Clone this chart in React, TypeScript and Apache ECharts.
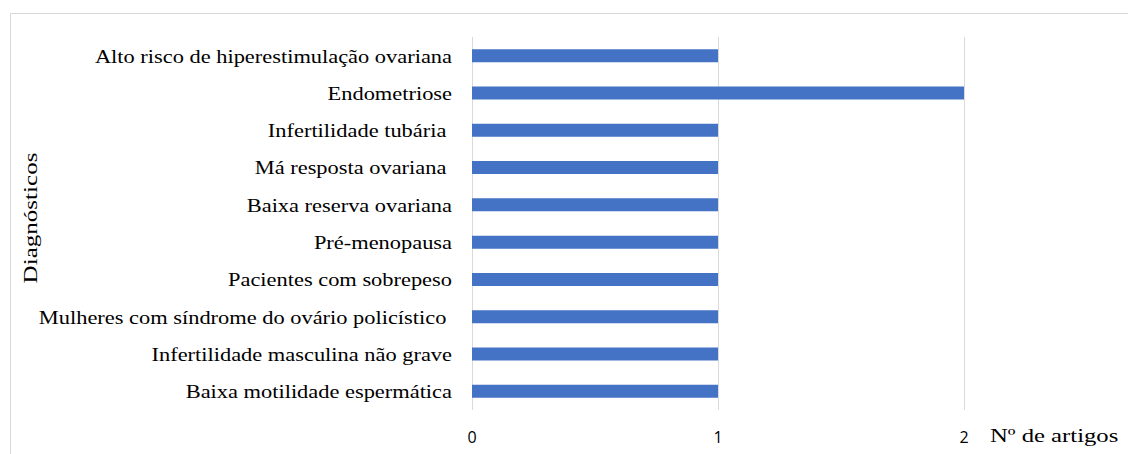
import React, { useEffect, useRef } from "react";
import * as echarts from "echarts";

const categories = [
  "Baixa motilidade espermática",
  "Infertilidade masculina não grave",
  "Mulheres com síndrome do ovário policístico ",
  "Pacientes com sobrepeso",
  "Pré-menopausa",
  "Baixa reserva ovariana",
  "Má resposta ovariana ",
  "Infertilidade tubária ",
  "Endometriose",
  "Alto risco de hiperestimulação ovariana",
];
const values = [1, 1, 1, 1, 1, 1, 1, 1, 2, 1];
const xTicks = [0, 1, 2];
const xTitle = "Nº de artigos";
const yTitle = "Diagnósticos";

const SERIF = "Liberation Serif, Times New Roman, serif";

export default function App() {
  const ref = useRef<HTMLDivElement>(null);
  useEffect(() => {
    if (!ref.current) return;
    const chart = echarts.init(ref.current, undefined, { renderer: "svg" });
    chart.setOption({
      animation: false,
      backgroundColor: "#ffffff",
      grid: { left: 472, right: 164, top: 37, bottom: 44, containLabel: false },
      xAxis: {
        type: "value",
        min: xTicks[0],
        max: xTicks[xTicks.length - 1],
        interval: 1,
        axisLine: { show: false },
        axisTick: { show: false },
        axisLabel: {
          margin: 19,
          color: "#000000",
          fontSize: 16,
          fontFamily: "Open Sans, Noto Sans, sans-serif",
        },
        splitLine: { show: true, lineStyle: { color: "#d9d9d9", width: 1 } },
      },
      yAxis: {
        type: "category",
        data: categories,
        axisLine: { show: false },
        axisTick: { show: false },
        axisLabel: { show: false },
      },
      series: [
        {
          type: "bar",
          data: values,
          barWidth: 13,
          itemStyle: { color: "#4472c4" },
        },
      ],
    });

    const x0 = chart.convertToPixel({ xAxisIndex: 0 }, xTicks[0]) as number;
    const x2 = chart.convertToPixel(
      { xAxisIndex: 0 },
      xTicks[xTicks.length - 1]
    ) as number;
    const labelGraphics = categories.map((c) => ({
      type: "text",
      x: x0 - 20,
      y: chart.convertToPixel({ yAxisIndex: 0 }, c) as number,
      scaleX: 1.18,
      silent: true,
      style: {
        text: c,
        fontFamily: SERIF,
        fontSize: 19,
        fill: "#000000",
        align: "right",
        verticalAlign: "middle",
      },
    }));

    chart.setOption({
      graphic: [
        {
          type: "rect",
          shape: { x: 10.5, y: 13.5, width: 1300, height: 1000 },
          style: { fill: "none", stroke: "#d9d9d9", lineWidth: 1 },
          silent: true,
        },
        ...labelGraphics,
        {
          type: "text",
          x: x2 + 26,
          y: 436,
          scaleX: 1.3,
          silent: true,
          style: {
            text: xTitle,
            fontFamily: SERIF,
            fontSize: 19,
            fill: "#000000",
            verticalAlign: "middle",
          },
        },
        {
          type: "text",
          x: 31,
          y: 218,
          rotation: Math.PI / 2,
          scaleX: 1.32,
          silent: true,
          style: {
            text: yTitle,
            fontFamily: SERIF,
            fontSize: 19,
            fill: "#000000",
            align: "center",
            verticalAlign: "middle",
          },
        },
      ],
    });
    return () => chart.dispose();
  }, []);
  return (
    <div
      ref={ref}
      style={{ position: "fixed", left: 0, top: 0, width: 1128, height: 454 }}
    />
  );
}
